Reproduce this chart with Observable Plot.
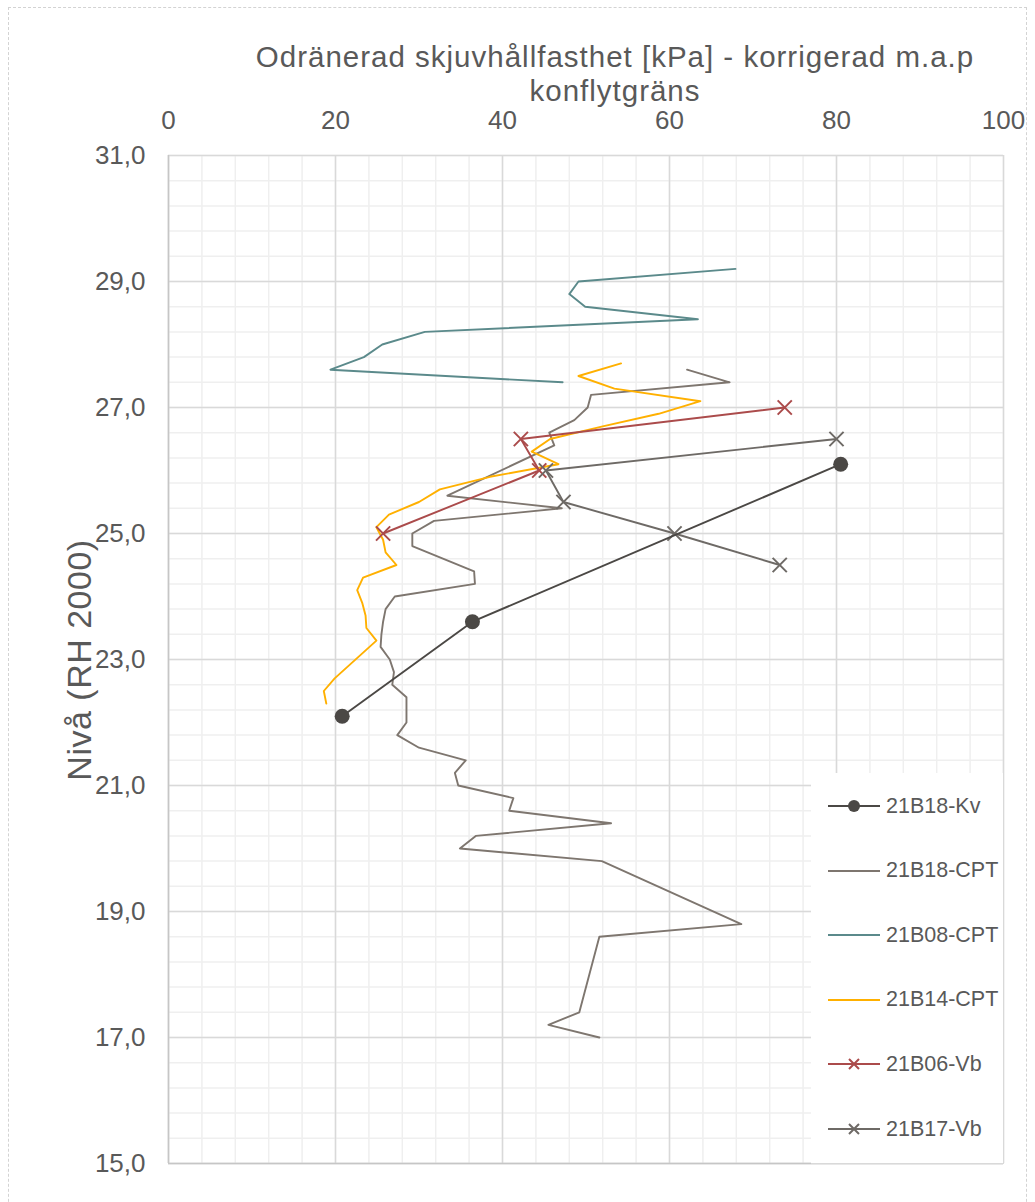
<!DOCTYPE html>
<html><head><meta charset="utf-8">
<script src="https://cdn.jsdelivr.net/npm/d3@7"></script>
<script src="https://cdn.jsdelivr.net/npm/@observablehq/plot@0.6"></script>
<style>
body{margin:0;background:#fff;overflow:hidden;font-family:"Liberation Sans",Arial,sans-serif;color:#595959;}
#wrap{position:relative;width:1035px;height:1202px;overflow:hidden;}
#outer{position:absolute;left:8px;top:7px;width:1019px;height:1300px;border:1.5px dashed #d3d3d3;box-sizing:border-box;}
#chart{position:absolute;left:0;top:0;}
.tl{position:absolute;left:0;width:1230px;text-align:center;font-size:29.5px;line-height:34px;height:34px;letter-spacing:1px;white-space:nowrap;}
#ylab{position:absolute;left:79px;top:660px;transform:translate(-50%,-50%) rotate(-90deg);font-size:34px;white-space:nowrap;letter-spacing:0.5px;}
#legend{position:absolute;left:811px;top:773px;width:193px;height:391px;background:#fff;border-right:1.5px solid #d9d9d9;border-bottom:1.5px solid #d9d9d9;box-sizing:border-box;}
.li{position:absolute;left:17px;height:30px;display:flex;align-items:center;font-size:21.5px;}
.li svg{margin-right:6px;}
</style></head>
<body><div id="wrap"><div id="outer"></div><div id="chart"></div>
<div class="tl" style="top:40px">Odränerad skjuvhållfasthet [kPa] - korrigerad m.a.p</div>
<div class="tl" style="top:74px">konflytgräns</div>
<div id="ylab">Nivå (RH 2000)</div>
<div id="legend"></div></div>
<script>
// Tick values
const xTicks = [0, 20, 40, 60, 80, 100];
const yTicks = [15, 17, 19, 21, 23, 25, 27, 29, 31];
const xMinor = d3.range(0, 101, 4);
const yMinor = d3.range(15, 31.01, 0.4).map(v => +v.toFixed(1));

// 21B18-Kv
const kvLevel = [22.1, 23.6, 26.1];
const kvKPa   = [20.8, 36.4, 80.5];

// 21B18-CPT
const b18Level = [27.6, 27.4, 27.2, 27.0, 26.8, 26.6, 26.4, 25.6, 25.4, 25.2, 25.0, 24.8, 24.4, 24.2, 24.0, 23.8, 23.6, 23.4, 23.2, 23.0, 22.8, 22.6, 22.4, 22.0, 21.8, 21.6, 21.4, 21.2, 21.0, 20.8, 20.6, 20.4, 20.2, 20.0, 19.8, 18.8, 18.6, 17.4, 17.2, 17.0];
const b18KPa   = [62.1, 67.2, 50.6, 50.2, 48.6, 45.6, 46.2, 33.4, 47.1, 31.8, 29.2, 29.2, 36.6, 36.7, 27.1, 26.0, 25.7, 25.5, 25.4, 26.5, 27.0, 26.8, 28.5, 28.5, 27.4, 30.0, 35.6, 34.3, 34.7, 41.3, 40.8, 53.0, 36.8, 34.9, 51.9, 68.6, 51.6, 49.2, 45.5, 51.6];

// 21B08-CPT
const b08Level = [29.2, 29.0, 28.8, 28.6, 28.4, 28.2, 28.0, 27.8, 27.6, 27.4];
const b08KPa   = [67.9, 49.1, 48.0, 49.9, 63.4, 30.7, 25.6, 23.4, 19.4, 47.2];

// 21B14-CPT
const b14Level = [27.7, 27.5, 27.3, 27.1, 26.9, 26.7, 26.5, 26.3, 26.1, 25.9, 25.7, 25.5, 25.3, 25.1, 24.9, 24.7, 24.5, 24.3, 24.1, 23.9, 23.7, 23.5, 23.3, 22.7, 22.5, 22.3];
const b14KPa   = [54.2, 49.1, 53.4, 63.7, 58.7, 52.0, 45.7, 43.5, 46.7, 38.5, 32.5, 30.0, 26.4, 24.9, 25.7, 26.0, 27.3, 23.3, 22.6, 23.2, 23.6, 23.7, 24.9, 19.9, 18.6, 18.9];

// 21B06-Vb
const b06Level = [27.0, 26.5, 26.0, 25.0];
const b06KPa   = [73.8, 42.2, 44.4, 25.7];

// 21B17-Vb
const b17Level = [26.5, 26.0, 25.5, 25.0, 24.5];
const b17KPa   = [80.0, 45.2, 47.3, 60.6, 73.2];

const seriesNames = ["21B18-Kv", "21B18-CPT", "21B08-CPT", "21B14-CPT", "21B06-Vb", "21B17-Vb"];
const colors = ["#4b4845", "#7e766f", "#5b8a8b", "#ffb000", "#ab4b4b", "#6e6a66"];

const rows = (lv, kp) => lv.map((l, i) => ({level: l, kPa: kp[i]}));
const kv = rows(kvLevel, kvKPa), b18 = rows(b18Level, b18KPa), b08 = rows(b08Level, b08KPa),
      b14 = rows(b14Level, b14KPa), b06 = rows(b06Level, b06KPa), b17 = rows(b17Level, b17KPa);

const fmt = d => d.toFixed(1).replace(".", ",");
const lw = 1.9;

const chart = Plot.plot({
  width: 1035, height: 1202,
  marginLeft: 168, marginRight: 32, marginTop: 155, marginBottom: 39,
  style: {fontFamily: "Liberation Sans, Arial, sans-serif", fontSize: "26px", color: "#595959", background: "transparent", overflow: "visible"},
  x: {domain: [0, 100], axis: "top", ticks: xTicks, tickSize: 0, tickPadding: 27, label: null},
  y: {domain: [15, 31], ticks: yTicks, tickSize: 0, tickPadding: 23, tickFormat: fmt, label: null},
  marks: [
    Plot.ruleX(xMinor, {stroke: "#efefef", strokeWidth: 1.5}),
    Plot.ruleY(yMinor, {stroke: "#efefef", strokeWidth: 1.5}),
    Plot.ruleX(xTicks, {stroke: "#d9d9d9", strokeWidth: 1.5}),
    Plot.ruleY(yTicks, {stroke: "#d9d9d9", strokeWidth: 1.5}),
    Plot.ruleX([0], {stroke: "#c6c6c6", strokeWidth: 1.5}),
    Plot.ruleY([15], {stroke: "#c6c6c6", strokeWidth: 1.5}),
    Plot.line(b18, {x: "kPa", y: "level", stroke: colors[1], strokeWidth: lw}),
    Plot.line(b08, {x: "kPa", y: "level", stroke: colors[2], strokeWidth: lw}),
    Plot.line(b14, {x: "kPa", y: "level", stroke: colors[3], strokeWidth: lw}),
    Plot.line(b06, {x: "kPa", y: "level", stroke: colors[4], strokeWidth: lw}),
    Plot.dot(b06, {x: "kPa", y: "level", symbol: "times", r: 6.5, stroke: colors[4], strokeWidth: 2}),
    Plot.line(b17, {x: "kPa", y: "level", stroke: colors[5], strokeWidth: lw}),
    Plot.dot(b17, {x: "kPa", y: "level", symbol: "times", r: 6.5, stroke: colors[5], strokeWidth: 2}),
    Plot.line(kv, {x: "kPa", y: "level", stroke: colors[0], strokeWidth: lw}),
    Plot.dot(kv, {x: "kPa", y: "level", r: 7.5, fill: colors[0], stroke: "none"})
  ]
});
document.getElementById("chart").appendChild(chart);

// Legend
const legend = document.getElementById("legend");
const markerKind = ["dot", "none", "none", "none", "times", "times"];
seriesNames.forEach((name, i) => {
  const div = document.createElement("div");
  div.className = "li";
  div.style.top = (33 - 15 + i * 64.6) + "px";
  let m = "";
  if (markerKind[i] === "dot") m = `<circle cx="26" cy="15" r="6" fill="${colors[i]}"/>`;
  if (markerKind[i] === "times") m = `<path d="M21,10L31,20M31,10L21,20" stroke="${colors[i]}" stroke-width="2"/>`;
  div.innerHTML = `<svg width="52" height="30"><line x1="0" x2="52" y1="15" y2="15" stroke="${colors[i]}" stroke-width="2"/>${m}</svg><span>${name}</span>`;
  legend.appendChild(div);
});
</script>
</body></html>
